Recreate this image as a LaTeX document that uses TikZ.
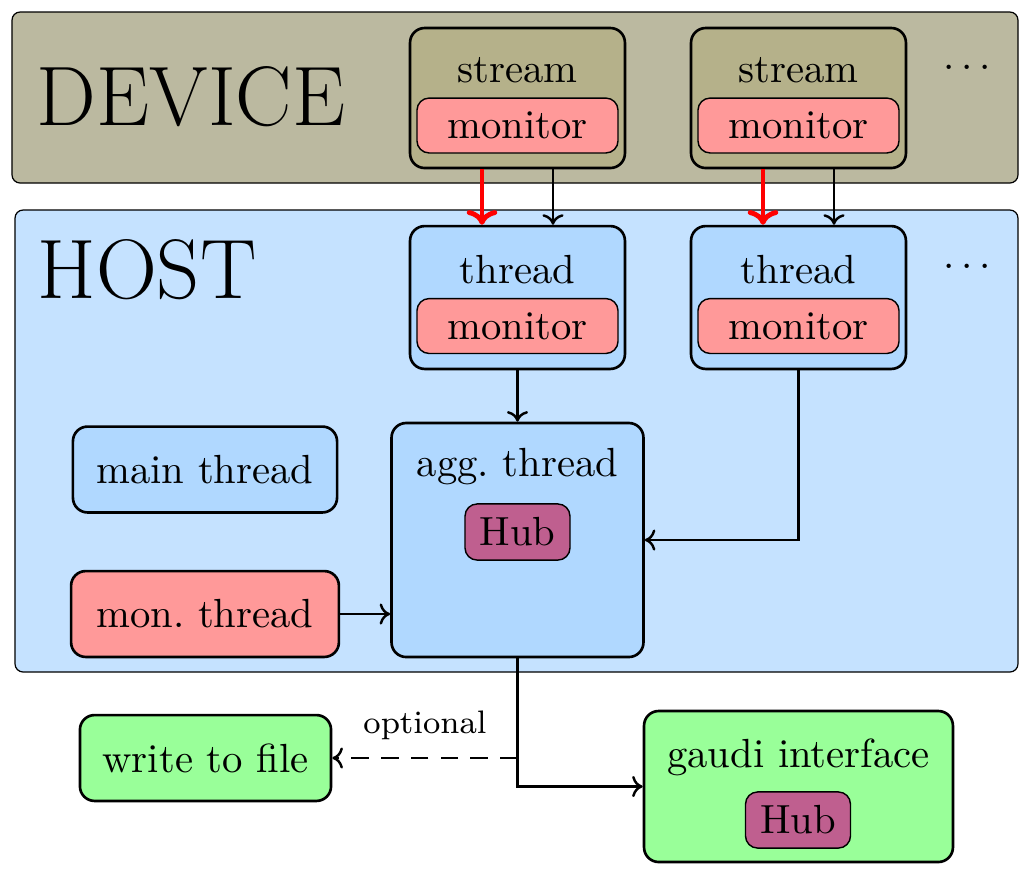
\documentclass[tikz,border=0pt]{standalone}
\usetikzlibrary{arrows.meta}
\definecolor{devbg}{RGB}{187,185,160}
\definecolor{streambg}{RGB}{181,177,138}
\definecolor{hostbg}{RGB}{197,226,255}
\definecolor{threadbg}{RGB}{176,216,255}
\definecolor{monred}{RGB}{255,153,153}
\definecolor{hubc}{RGB}{191,95,143}
\definecolor{greenc}{RGB}{153,255,153}
\tikzset{
  outerbox/.style={draw=black, line width=0.3pt, rounded corners=2pt},
  unitbox/.style={draw=black, line width=0.65pt, rounded corners=3.6pt, rectangle, inner sep=0pt},
  monbox/.style={draw=black, line width=0.35pt, rounded corners=3pt, fill=monred, rectangle, inner sep=0pt, minimum width=49.4pt, minimum height=13.5pt},
  hubbox/.style={draw=black, line width=0.35pt, rounded corners=3pt, fill=hubc, rectangle, inner sep=0pt, minimum width=25.8pt, minimum height=13.8pt},
  conn/.style={line width=0.6pt, -{To[length=2.6pt,width=5.2pt]}},
  redconn/.style={red, line width=1.2pt, -{To[length=3.6pt,width=7.5pt]}},
  txt/.style={inner sep=0pt}
}
\begin{document}
\begin{tikzpicture}[x=0.2457pt,y=-0.2457pt]
\useasboundingbox (0,0) rectangle (1031,876);
% backgrounds
\draw[outerbox, fill=devbg] (12,12) rectangle (1018,183);
\draw[outerbox, fill=hostbg] (15,210) rectangle (1018,672);
\node[txt, font=\huge] (devlbl) at (191,97) {DEVICE};
\node[txt, font=\huge] (hostlbl) at (147,270) {HOST};
\node[txt] (dots1) at (967,68) {$\cdots$};
\node[txt] (dots2) at (967,267) {$\cdots$};
% streams
\node[unitbox, fill=streambg, minimum width=52.8pt, minimum height=34.4pt] (s1) at (517.5,98) {};
\node[txt] (s1l) at (517.5,70) {stream};
\node[monbox] (s1m) at (517.5,125.5) {monitor};
\node[unitbox, fill=streambg, minimum width=52.8pt, minimum height=34.4pt] (s2) at (798.5,98) {};
\node[txt] (s2l) at (798.5,70) {stream};
\node[monbox] (s2m) at (798.5,125.5) {monitor};
% threads
\node[unitbox, fill=threadbg, minimum width=52.8pt, minimum height=35.1pt] (t1) at (517.5,297.5) {};
\node[txt] (t1l) at (517.5,270) {thread};
\node[monbox] (t1m) at (517.5,326) {monitor};
\node[unitbox, fill=threadbg, minimum width=52.8pt, minimum height=35.1pt] (t2) at (798.5,297.5) {};
\node[txt] (t2l) at (798.5,270) {thread};
\node[monbox] (t2m) at (798.5,326) {monitor};
% agg
\node[unitbox, fill=threadbg, minimum width=61.9pt, minimum height=57.5pt] (agg) at (517.5,540) {};
\node[txt] (aggl) at (517.5,467) {agg.\ thread};
\node[hubbox] (agghub) at (517.5,532) {Hub};
% main / mon
\node[unitbox, fill=threadbg, minimum width=64.9pt, minimum height=21.1pt] (main) at (205,469.5) {main thread};
\node[unitbox, fill=monred, minimum width=65.8pt, minimum height=21.1pt] (mon) at (205,614) {mon.\ thread};
% outputs
\node[unitbox, fill=greenc, minimum width=61.7pt, minimum height=21.1pt] (wf) at (205.5,758) {write to file};
\node[unitbox, fill=greenc, minimum width=75.9pt, minimum height=37.1pt] (gaudi) at (798.5,786.5) {};
\node[txt] (gaudil) at (798.5,757) {gaudi interface};
\node[hubbox] (gaudihub) at (798,820) {Hub};
% connectors
\draw[redconn] (s1.south -| 482,0) -- (t1.north -| 482,0);
\draw[conn] (s1.south -| 553,0) -- (t1.north -| 553,0);
\draw[redconn] (s2.south -| 763,0) -- (t2.north -| 763,0);
\draw[conn] (s2.south -| 834,0) -- (t2.north -| 834,0);
\draw[conn] (t1.south) -- (agg.north);
\draw[conn] (t2.south) |- (agg.east);
\draw[conn] (mon.east) -- (mon.east -| agg.west);
\draw[conn] (agg.south) |- (gaudi.west);
\draw[conn, dash pattern=on 4.3pt off 3pt] (agg.south |- wf.east) -- node[above=0.8pt, font=\footnotesize] (opt) {optional} (wf.east);
\end{tikzpicture}
\end{document}
